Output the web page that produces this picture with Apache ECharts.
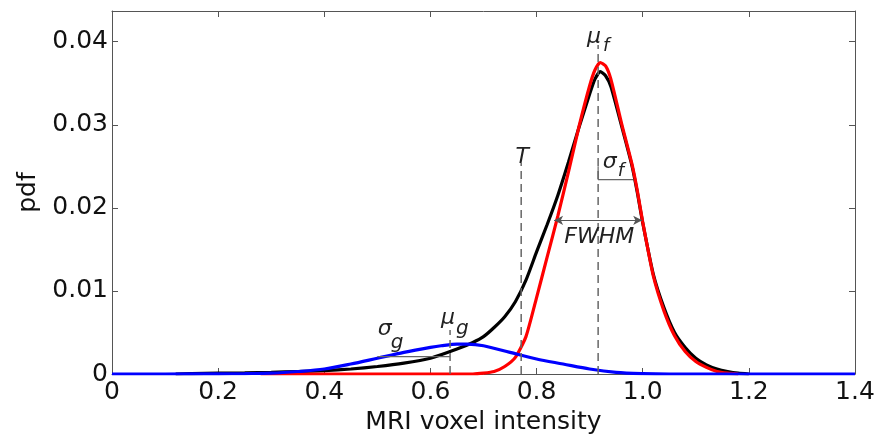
<!DOCTYPE html>
<html><head><meta charset="utf-8">
<script src="https://cdn.jsdelivr.net/npm/echarts@6/dist/echarts.min.js"></script>
<style>html,body{margin:0;padding:0;background:#fff}#c{width:879px;height:443px}</style>
</head><body><div id="c"></div>
<script>
// Axis ticks
const xTicks = [0, 0.2, 0.4, 0.6, 0.8, 1.0, 1.2, 1.4];
const yTicks = [0, 0.01, 0.02, 0.03, 0.04];
const xMax = 1.4, yMax = 0.0437;

// Black: measured pdf
const blackX = [0.12,0.15,0.2,0.25,0.3,0.35,0.4,0.45,0.5,0.55,0.6,0.65,0.68,0.7,0.72,0.74,0.76,0.78,0.8,0.82,0.84,0.86,0.88,0.9,0.91,0.92,0.93,0.94,0.96,0.98,0.99,1.0,1.02,1.04,1.06,1.08,1.1,1.12,1.14,1.16,1.18,1.2];
const blackY = [0,0.00005,0.0001,0.00013,0.0002,0.0003,0.0004,0.0006,0.0009,0.0013,0.0019,0.0030,0.0038,0.0045,0.0056,0.0069,0.0087,0.0113,0.0147,0.0180,0.0215,0.0255,0.0297,0.0337,0.0355,0.0364,0.0359,0.0346,0.0299,0.0250,0.0218,0.0182,0.0120,0.0080,0.0050,0.0032,0.0019,0.0011,0.0006,0.0003,0.0001,0];

// Red: fit (foreground)
const redX = [0.28,0.68,0.70,0.72,0.74,0.76,0.78,0.80,0.82,0.84,0.86,0.88,0.90,0.91,0.92,0.93,0.94,0.96,0.98,0.99,1.00,1.02,1.04,1.06,1.08,1.10,1.12,1.14,1.16,1.18];
const redY = [0,0,0.0001,0.0003,0.0009,0.0020,0.0045,0.0092,0.0141,0.0190,0.0243,0.0298,0.0347,0.0366,0.0375,0.0371,0.0355,0.0302,0.0252,0.0220,0.0183,0.0118,0.0076,0.0046,0.0027,0.0015,0.0008,0.0003,0.0001,0];

// Blue: fit (background)
const blueX = [0,0.1,0.2,0.25,0.3,0.35,0.4,0.45,0.5,0.55,0.6,0.62,0.65,0.67,0.7,0.75,0.8,0.85,0.9,0.95,1.0,1.05,1.1,1.4];
const blueY = [0,0,0.00002,0.00005,0.0001,0.0003,0.0006,0.0012,0.0019,0.0026,0.0032,0.0034,0.0036,0.0036,0.0034,0.0026,0.0018,0.0012,0.0006,0.0002,0.00005,0,0,0];

// Annotation anchors (data coords)
const muF = 0.916, muFTop = 0.0396;
const tX = 0.771, tTop = 0.0254;
const muG = 0.637, muGTop = 0.0053;
const sigF = { x1: 0.916, x2: 0.982, yTop: 0.0250, y: 0.0234 };
const fwhm = { x1: 0.833, x2: 0.999, y: 0.0185 };
const sigG = { x1: 0.50, x2: 0.637, y: 0.0021 };
const labels = [
  { t: 'μ', x: 0.908, y: 0.0405, size: 22 },
  { t: 'f', x: 0.931, y: 0.0395, size: 18 },
  { t: 'T', x: 0.773, y: 0.0261, size: 22 },
  { t: 'σ', x: 0.938, y: 0.0255, size: 22 },
  { t: 'f', x: 0.959, y: 0.0244, size: 18 },
  { t: 'FWHM', x: 0.918, y: 0.0164, size: 22 },
  { t: 'μ', x: 0.633, y: 0.0067, size: 22 },
  { t: 'g', x: 0.660, y: 0.0054, size: 20 },
  { t: 'σ', x: 0.514, y: 0.0054, size: 22 },
  { t: 'g', x: 0.537, y: 0.0037, size: 20 }
];

const zip = (xs, ys) => xs.map((x, i) => [x, ys[i]]);
const FONT = '"DejaVu Sans", sans-serif';
const AX = '#555';

const chart = echarts.init(document.getElementById('c'), null, { renderer: 'canvas' });

const dashStyle = { color: '#666', width: 1.5, type: [8, 5] };
const solidAnno = { color: '#666', width: 1.2 };

function annoLine(data, style, extra) {
  return Object.assign({
    type: 'line', data: data, showSymbol: false, symbol: 'none', silent: true,
    lineStyle: style, z: 5, animation: false
  }, extra || {});
}
const axLine = { show: true, onZero: false, lineStyle: { color: AX, width: 1 } };
const axTick = { show: true, inside: true, length: 6, lineStyle: { color: AX } };

chart.setOption({
  animation: false,
  backgroundColor: '#fff',
  grid: { left: 112, right: 24, top: 11, bottom: 69, containLabel: false },
  xAxis: [{
    type: 'value', min: 0, max: xMax, interval: 0.2,
    name: 'MRI voxel intensity', nameLocation: 'middle', nameGap: 34,
    nameTextStyle: { fontFamily: FONT, fontSize: 25, color: '#111' },
    axisLine: axLine, axisTick: axTick,
    axisLabel: { fontFamily: FONT, fontSize: 25, color: '#111', margin: 6,
      formatter: v => (v === 0 ? '0' : v.toFixed(1)) },
    splitLine: { show: false }
  }, {
    type: 'value', min: 0, max: xMax, interval: 0.2, position: 'top',
    axisLine: axLine, axisTick: axTick,
    axisLabel: { show: false }, splitLine: { show: false }
  }],
  yAxis: [{
    type: 'value', min: 0, max: yMax, interval: 0.01,
    name: 'pdf', nameLocation: 'middle', nameGap: 70, nameRotate: 90,
    nameTextStyle: { fontFamily: FONT, fontSize: 25, color: '#111' },
    axisLine: axLine, axisTick: axTick,
    axisLabel: { fontFamily: FONT, fontSize: 25, color: '#111', margin: 4, showMaxLabel: false,
      formatter: v => (v === 0 ? '0' : (Math.abs(v * 100 - Math.round(v * 100)) < 1e-6 ? v.toFixed(2) : '')) },
    splitLine: { show: false }
  }, {
    type: 'value', min: 0, max: yMax, interval: 0.01, position: 'right',
    axisLine: axLine, axisTick: axTick,
    axisLabel: { show: false }, splitLine: { show: false }
  }],
  series: [
    annoLine([[muF, 0], [muF, muFTop]], dashStyle),
    annoLine([[tX, 0], [tX, tTop]], dashStyle),
    annoLine([[muG, 0], [muG, muGTop]], dashStyle),
    annoLine([[sigF.x1, sigF.yTop], [sigF.x1, sigF.y], [sigF.x2, sigF.y]], solidAnno),
    annoLine([[sigG.x1, sigG.y], [sigG.x2, sigG.y]], solidAnno),
    annoLine([[fwhm.x1, fwhm.y], [fwhm.x2, fwhm.y]], { width: 0, opacity: 0 }, {
      markLine: {
        silent: true, animation: false, symbol: ['arrow', 'arrow'], symbolSize: [7, 9],
        label: { show: false },
        lineStyle: { color: '#555', width: 1.2, type: 'solid' },
        data: [[{ coord: [fwhm.x1, fwhm.y] }, { coord: [fwhm.x2, fwhm.y] }]]
      }
    }),
    { type: 'line', name: 'data', data: zip(blackX, blackY), showSymbol: false, symbol: 'none',
      smooth: 0.2, lineStyle: { color: '#000', width: 3.2 }, z: 2 },
    { type: 'line', name: 'fg', data: zip(redX, redY), showSymbol: false, symbol: 'none',
      smooth: 0.2, lineStyle: { color: '#ff0000', width: 3.2 }, z: 3 },
    { type: 'line', name: 'bg', data: zip(blueX, blueY), showSymbol: false, symbol: 'none',
      smooth: 0.3, lineStyle: { color: '#0000ff', width: 3.2 }, z: 4 }
  ]
});

const g = labels.map(l => {
  const p = chart.convertToPixel({ gridIndex: 0 }, [l.x, l.y]);
  return {
    type: 'text', x: p[0], y: p[1], silent: true, z: 10,
    style: { text: l.t, font: 'italic ' + l.size + 'px ' + FONT, fill: '#222',
      align: 'center', verticalAlign: 'middle' }
  };
});
chart.setOption({ graphic: g });
</script>
</body></html>
